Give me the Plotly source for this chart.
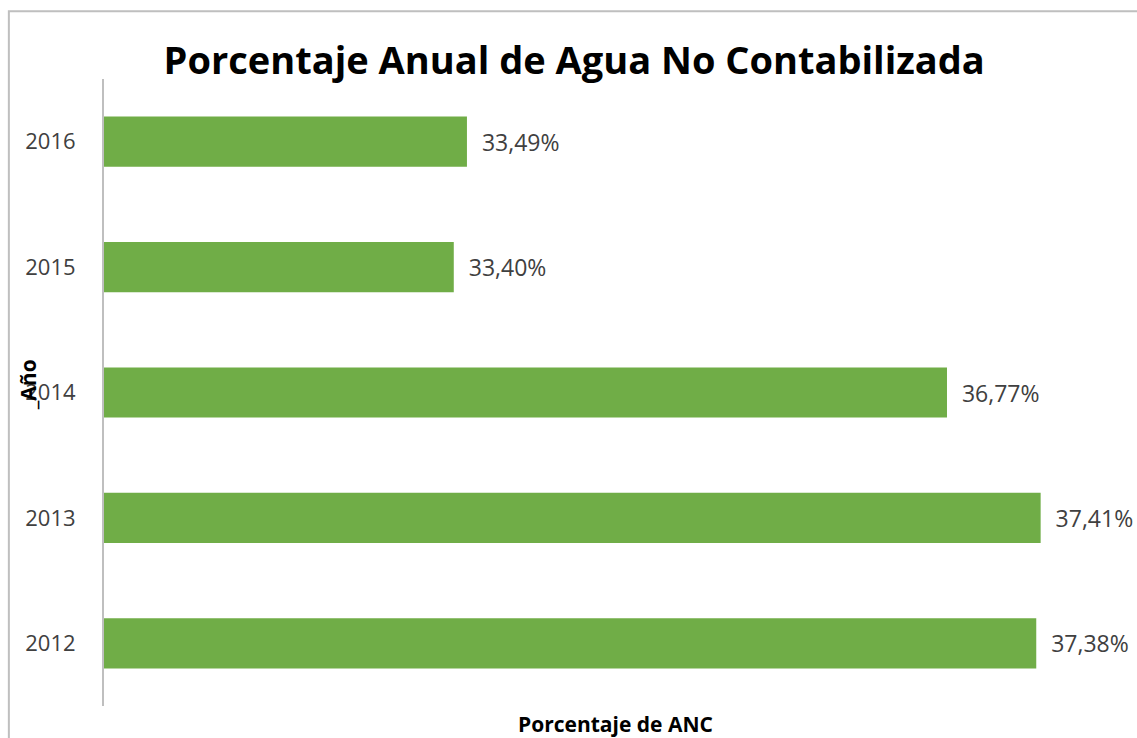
import plotly.graph_objects as go

# data
years = ["2012", "2013", "2014", "2015", "2016"]
anc_pct = [37.38, 37.41, 36.77, 33.40, 33.49]
labels = ["\u00a0\u00a0" + f"{v:.2f}".replace(".", ",") + "%" for v in anc_pct]

GREEN = "#70AD47"
TEXT = "#404040"
FONT = "Open Sans"

fig = go.Figure(go.Bar(
    x=anc_pct, y=years,
    orientation="h",
    marker_color=GREEN,
    marker_line_width=0,
    text=labels,
    textposition="outside",
    textfont=dict(family=FONT, size=23, color=TEXT),
    cliponaxis=False,
    hovertemplate="<b>%{y}</b><br>ANC: %{x:.2f}%<extra></extra>",
))

fig.update_layout(
    width=1137, height=738,
    margin=dict(l=104, r=10, t=79, b=32),
    paper_bgcolor="white",
    plot_bgcolor="white",
    bargap=0.6,
    showlegend=False,
    title=dict(
        text="<b>Porcentaje Anual de Agua No Contabilizada</b>",
        x=0.505, xanchor="center", y=0.918, yanchor="middle",
        font=dict(family=FONT, size=38, color="black"),
    ),
    xaxis=dict(range=[31.01, 38.0], visible=False, fixedrange=True),
    yaxis=dict(
        showline=True, linecolor="#BFBFBF", linewidth=2,
        showgrid=False, ticks="", ticklabelstandoff=22,
        tickfont=dict(family=FONT, size=22, color=TEXT),
    ),
    shapes=[dict(
        type="rect", xref="paper", yref="paper",
        x0=-0.093, x1=1.02, y0=-0.1, y1=1.108,
        line=dict(color="#BFBFBF", width=2),
    )],
    annotations=[
        dict(text="<b>_Año</b>", textangle=-90, xref="paper", yref="paper",
             x=-0.074, y=0.512, xanchor="center", yanchor="middle",
             showarrow=False, font=dict(family=FONT, size=21, color="black")),
        dict(text="<b>Porcentaje de ANC</b>", xref="paper", yref="paper",
             x=0.5, y=-0.0287, xanchor="center", yanchor="middle",
             showarrow=False, font=dict(family=FONT, size=21, color="black")),
    ],
)

fig.write_html("out.html", config={"displayModeBar": False},
               post_script="document.body.style.margin='0';")
